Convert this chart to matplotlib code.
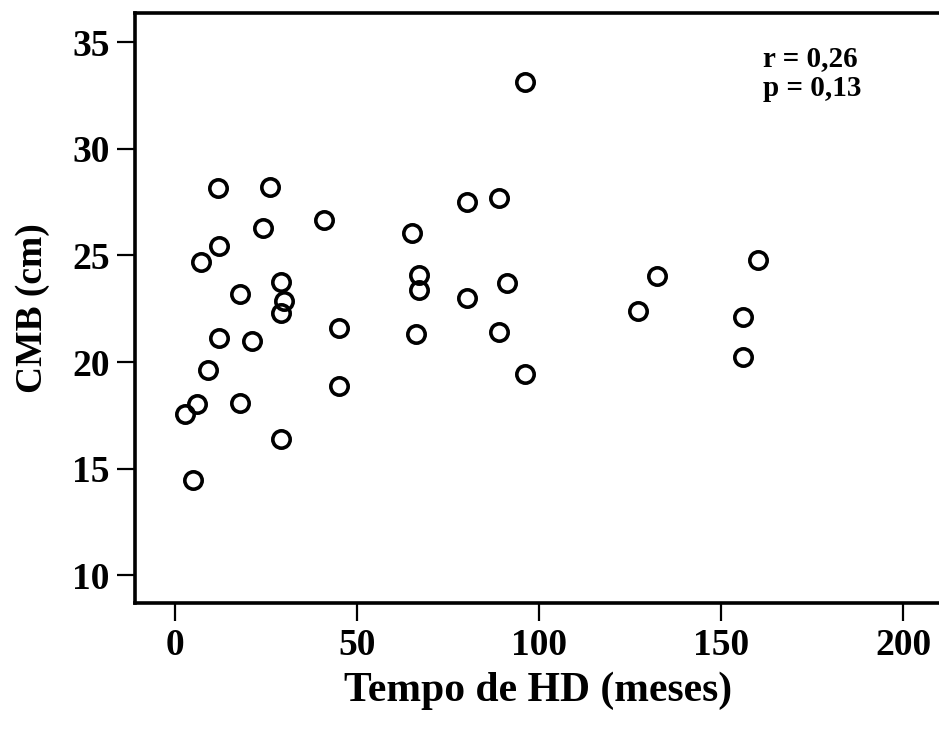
import matplotlib
matplotlib.use("Agg")
import matplotlib.pyplot as plt

# Data: time on hemodialysis (months) vs CMB (cm)
tempo_hd = [11.9, 26.1, 41.0, 24.1, 12.1, 7.1, 29.1, 17.9, 30.0, 29.1,
            45.0, 12.1, 21.1, 9.1, 45.0, 6.0, 2.9, 17.9, 29.1, 5.0,
            80.1, 89.1, 65.2, 67.1, 67.1, 91.1, 80.1, 66.2, 89.1, 96.1,
            132.3, 127.2, 160.2, 156.1, 156.1, 96.1]
cmb = [28.15, 28.22, 26.66, 26.31, 25.45, 24.70, 23.76, 23.18, 22.87, 22.28,
       21.60, 21.13, 20.99, 19.61, 18.88, 18.02, 17.55, 18.08, 16.41, 14.45,
       27.52, 27.68, 26.06, 24.07, 23.40, 23.73, 23.01, 21.31, 21.41, 19.43,
       24.03, 22.40, 24.81, 22.12, 20.24, 33.12]

x_ticks = [0, 50, 100, 150, 200]
y_ticks = [10, 15, 20, 25, 30, 35]
x_label = "Tempo de HD (meses)"
y_label = "CMB (cm)"
annot = "r = 0,26\np = 0,13"

plt.rcParams['font.family'] = ['Liberation Serif', 'DejaVu Serif']
plt.rcParams['font.weight'] = 'bold'

W, H = 939, 729
fig = plt.figure(figsize=(W / 100, H / 100), dpi=100)
left, right, bottom, top = 134.5, 942, 603, 13
ax = fig.add_axes([left / W, 1 - bottom / H, (right - left) / W, (bottom - top) / H])

ax.plot(tempo_hd, cmb, linestyle='none', marker='o', markersize=12.5,
        markerfacecolor='none', markeredgecolor='black', markeredgewidth=2.6,
        clip_on=False)

ax.set_xlim(-11.1, 210.7)
ax.set_ylim(8.69, 36.38)
ax.set_xticks(x_ticks)
ax.set_yticks(y_ticks)
ax.tick_params(axis='both', direction='out', length=13, width=1.6,
               labelsize=27, pad=5)
for lab in ax.get_xticklabels() + ax.get_yticklabels():
    lab.set_fontweight('bold')
for s in ['left', 'bottom', 'top']:
    ax.spines[s].set_linewidth(2.6)
ax.spines['right'].set_visible(False)

ax.set_xlabel(x_label, fontsize=30, fontweight='bold', labelpad=6)
ax.set_ylabel(y_label, fontsize=27, fontweight='bold', labelpad=16)

ax.text(0.778, 0.897, annot, transform=ax.transAxes, fontsize=21,
        fontweight='bold', va='center', ha='left', linespacing=1.12)

fig.savefig("out.png", dpi=100)
